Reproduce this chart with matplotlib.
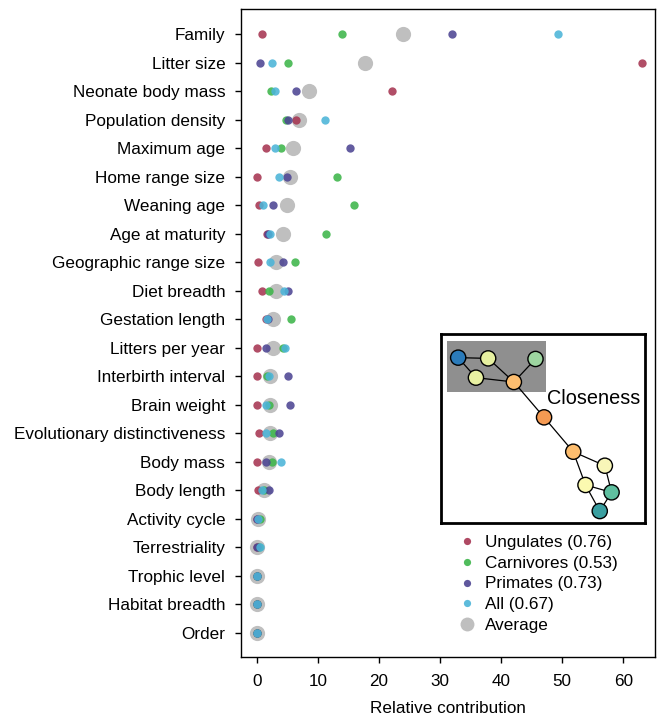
import matplotlib
matplotlib.use("Agg")
import matplotlib.pyplot as plt
from matplotlib.lines import Line2D
from matplotlib.patches import Rectangle

plt.rcParams["font.family"] = ["Liberation Sans", "DejaVu Sans"]
plt.rcParams["font.size"] = 12.3

# 변수 (위에서 아래 순서)
traits = [
    "Family", "Litter size", "Neonate body mass", "Population density",
    "Maximum age", "Home range size", "Weaning age", "Age at maturity",
    "Geographic range size", "Diet breadth", "Gestation length",
    "Litters per year", "Interbirth interval", "Brain weight",
    "Evolutionary distinctiveness", "Body mass", "Body length",
    "Activity cycle", "Terrestriality", "Trophic level", "Habitat breadth",
    "Order",
]

ungulates = [0.8, 63.0, 22.2, 6.5, 1.5, 0.0, 0.4, 1.7, 0.2, 0.8, 1.5,
             0.1, 0.0, 0.05, 0.4, 0.1, 0.2, 0.0, 0.0, 0.0, 0.0, 0.0]
carnivores = [14.0, 5.2, 2.4, 4.75, 4.0, 13.1, 16.0, 11.4, 6.2, 2.0, 5.6,
              4.3, 1.7, 2.0, 2.7, 2.5, 1.15, 0.6, 0.3, 0.1, 0.05, 0.0]
primates = [32.0, 0.5, 6.4, 5.2, 15.3, 5.0, 2.7, 1.9, 4.3, 5.1, 1.8,
            1.6, 5.1, 5.5, 3.7, 1.6, 2.0, 0.0, 0.0, 0.0, 0.0, 0.0]
all_species = [49.4, 2.5, 2.95, 11.1, 3.0, 3.6, 1.05, 2.1, 2.2, 4.4, 1.7,
               4.6, 2.0, 1.6, 1.6, 3.9, 0.8, 0.2, 0.5, 0.1, 0.1, 0.0]
average = [24.0, 17.8, 8.6, 6.9, 5.95, 5.5, 5.0, 4.3, 3.2, 3.1, 2.7,
           2.7, 2.2, 2.2, 2.1, 2.0, 1.15, 0.25, 0.1, 0.1, 0.05, 0.0]

groups = [
    ("Ungulates (0.76)", ungulates, "#a63552"),
    ("Carnivores (0.53)", carnivores, "#3db54a"),
    ("Primates (0.73)", primates, "#4d4593"),
    ("All (0.67)", all_species, "#4bb4d8"),
]

# 인셋 네트워크 (인셋 좌표 0~1)
node_x = [0.085, 0.232, 0.464, 0.172, 0.358, 0.506, 0.649, 0.804, 0.709, 0.837, 0.779]
node_y = [0.875, 0.871, 0.868, 0.769, 0.746, 0.559, 0.377, 0.303, 0.201, 0.162, 0.063]
node_colors = ["#2b7bba", "#e6f0a0", "#9dd5a0", "#e8f1a2", "#fdbe70", "#f59a52",
               "#fdbd6e", "#f8f6b8", "#fbfab0", "#5fbf9f", "#3a9fa0"]
edges = [(0, 1), (0, 3), (3, 4), (1, 4), (2, 4), (4, 5), (5, 6), (6, 7),
         (6, 8), (7, 9), (8, 9), (8, 10), (9, 10)]

fig = plt.figure(figsize=(6.57, 7.16), dpi=100)
ax = fig.add_axes([0.3668, 0.0824, 0.6302, 0.905])

ypos = list(range(len(traits)))
ax.scatter(average, ypos, s=120, color="#bfbfbf", zorder=2, linewidths=0)
for label, vals, col in groups:
    ax.scatter(vals, ypos, s=36, color=col, alpha=0.88, zorder=3, linewidths=0)

ax.set_yticks(ypos)
ax.set_yticklabels(traits)
ax.set_ylim(21.85, -0.88)
ax.set_xlim(-2.57, 65.2)
ax.set_xticks(range(0, 61, 10))
ax.set_xlabel("Relative contribution", labelpad=9)
for sp in ax.spines.values():
    sp.set_linewidth(1.0)
ax.tick_params(axis="y", length=4.3, width=1.0, pad=7)
ax.tick_params(axis="x", length=4, width=1.0, pad=8)

# 범례
handles = [Line2D([], [], marker="o", ls="", color=c, markersize=5.2,
                  markeredgewidth=0, alpha=0.9) for _, _, c in groups]
handles.append(Line2D([], [], marker="o", ls="", color="#bfbfbf",
                      markersize=10, markeredgewidth=0))
labels = [g[0] for g in groups] + ["Average"]
ax.legend(handles, labels, loc="upper left", bbox_to_anchor=(0.698, 0.2525),
          bbox_transform=fig.transFigure, frameon=False, borderpad=0,
          borderaxespad=0, handlelength=1.0, handletextpad=0.55,
          labelspacing=0.33)

# 인셋
ins = fig.add_axes([0.671, 0.2696, 0.3105, 0.2639])
ins.set_xlim(0, 1)
ins.set_ylim(0, 1)
ins.set_xticks([])
ins.set_yticks([])
for sp in ins.spines.values():
    sp.set_linewidth(2.0)
ins.add_patch(Rectangle((0.029, 0.693), 0.486, 0.27, facecolor="#8f8f8f",
                        edgecolor="none", zorder=0))
for a, b in edges:
    ins.plot([node_x[a], node_x[b]], [node_y[a], node_y[b]], color="black",
             lw=0.9, zorder=1)
ins.scatter(node_x, node_y, s=120, c=node_colors, edgecolors="black",
            linewidths=1.0, zorder=2)
ins.text(0.518, 0.661, "Closeness", fontsize=14.3, ha="left", va="center")

fig.savefig("out.png", dpi=100)
